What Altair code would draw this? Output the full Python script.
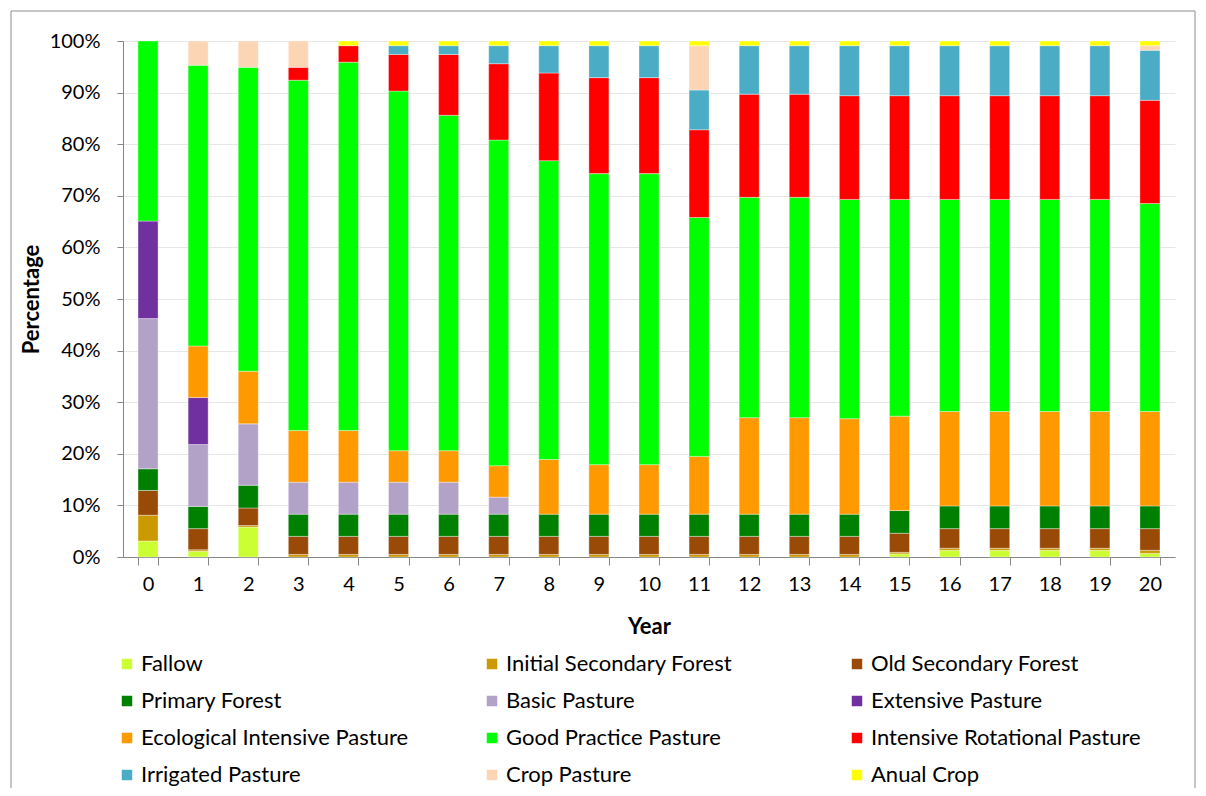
import altair as alt
import pandas as pd

years = list(range(21))

categories = [
    "Fallow", "Initial Secondary Forest", "Old Secondary Forest",
    "Primary Forest", "Basic Pasture", "Extensive Pasture",
    "Ecological Intensive Pasture", "Good Practice Pasture", "Intensive Rotational Pasture",
    "Irrigated Pasture", "Crop Pasture", "Anual Crop",
]
colors = [
    "#CCFF33", "#CC9900", "#994A06",
    "#008000", "#B3A2C7", "#7030A0",
    "#FF9900", "#00FF00", "#FF0000",
    "#4BACC6", "#FCD5B5", "#FFFF00",
]

fallow = [3.1, 1.1, 5.8, 0, 0, 0, 0, 0, 0, 0, 0, 0, 0, 0, 0, 0.6, 1.3, 1.3, 1.3, 1.3, 0.7]
init_sec = [5.0, 0.3, 0.3, 0.5, 0.5, 0.5, 0.5, 0.5, 0.5, 0.5, 0.5, 0.5, 0.5, 0.5, 0.5, 0.3, 0.4, 0.4, 0.4, 0.4, 0.6]
old_sec = [4.8, 4.1, 3.4, 3.5, 3.5, 3.5, 3.5, 3.5, 3.5, 3.5, 3.5, 3.5, 3.5, 3.5, 3.5, 3.7, 3.8, 3.8, 3.8, 3.8, 4.2]
primary = [4.2, 4.3, 4.4, 4.3, 4.3, 4.3, 4.3, 4.3, 4.3, 4.3, 4.3, 4.3, 4.3, 4.3, 4.3, 4.4, 4.4, 4.4, 4.4, 4.4, 4.4]
basic = [29.1, 12.0, 11.9, 6.2, 6.2, 6.2, 6.2, 3.3, 0, 0, 0, 0, 0, 0, 0, 0, 0, 0, 0, 0, 0]
extensive = [18.9, 9.1, 0, 0, 0, 0, 0, 0, 0, 0, 0, 0, 0, 0, 0, 0, 0, 0, 0, 0, 0]
ecological = [0, 10.0, 10.2, 10.0, 10.0, 6.1, 6.1, 6.1, 10.6, 9.6, 9.6, 11.2, 18.7, 18.7, 18.5, 18.3, 18.3, 18.3, 18.3, 18.3, 18.3]
good_practice = [34.9, 54.4, 58.9, 67.9, 71.4, 69.7, 65.0, 63.1, 57.9, 56.4, 56.4, 46.3, 42.7, 42.7, 42.5, 42.0, 41.1, 41.1, 41.1, 41.1, 40.3]
intensive_rot = [0, 0, 0, 2.5, 3.2, 7.1, 11.8, 14.8, 17.0, 18.6, 18.6, 17.0, 20.0, 20.0, 20.1, 20.1, 20.1, 20.1, 20.1, 20.1, 20.0]
irrigated = [0, 0, 0, 0, 0, 1.7, 1.7, 3.5, 5.3, 6.2, 6.2, 7.7, 9.4, 9.4, 9.7, 9.7, 9.7, 9.7, 9.7, 9.7, 9.7]
crop_pasture = [0, 4.7, 5.1, 5.1, 0, 0, 0, 0, 0, 0, 0, 8.6, 0, 0, 0, 0, 0, 0, 0, 0, 0.9]
anual_crop = [0, 0, 0, 0, 0.9, 0.9, 0.9, 0.9, 0.9, 0.9, 0.9, 0.9, 0.9, 0.9, 0.9, 0.9, 0.9, 0.9, 0.9, 0.9, 0.9]

series = [fallow, init_sec, old_sec, primary, basic, extensive, ecological,
          good_practice, intensive_rot, irrigated, crop_pasture, anual_crop]

rows = []
for ci, (cat, vals) in enumerate(zip(categories, series)):
    for y, v in zip(years, vals):
        rows.append({"Year": y, "Category": cat, "idx": ci, "value": v})
df = pd.DataFrame(rows)

FONT = "Lato"

bars = alt.Chart(df).transform_filter("datum.value > 0").mark_bar(
    stroke="white", strokeWidth=0.6, strokeOpacity=0.6
).encode(
    x=alt.X("Year:O", sort=years,
            scale=alt.Scale(paddingInner=0.6, paddingOuter=0.3),
            axis=alt.Axis(title="Year", labelAngle=0, tickBand="extent", tickSize=8,
                          domainColor="#868686", tickColor="#868686",
                          labelPadding=9, titlePadding=22, titleFontWeight="bold")),
    y=alt.Y("value:Q", stack="normalize",
            scale=alt.Scale(domain=[0, 1]),
            axis=alt.Axis(title="Percentage", format=".0%",
                          values=[i / 10 for i in range(11)],
                          tickSize=6, grid=True, gridColor="#e6e6e6",
                          domainColor="#868686", tickColor="#868686",
                          labelPadding=17, titlePadding=6, titleFontWeight="bold")),
    color=alt.Color("Category:N", sort=categories,
                    scale=alt.Scale(domain=categories, range=colors),
                    legend=alt.Legend(title=None, orient="none", legendX=-7, legendY=612,
                                      direction="horizontal",
                                      columns=3, symbolType="square", symbolSize=110,
                                      symbolStrokeWidth=0, labelFontSize=22, labelFont=FONT,
                                      labelColor="black", rowPadding=15, columnPadding=70,
                                      gridAlign="all", labelLimit=400, labelOffset=3)),
    order=alt.Order("idx:Q", sort="ascending"),
)

frame = alt.Chart(alt.Data(values=[{"a": 1}])).mark_rect(
    fillOpacity=0, stroke="#8c8c8c", strokeWidth=1
).encode(
    x=alt.value(-112), x2=alt.value(1072), y=alt.value(-30), y2=alt.value(760)
)

chart = alt.layer(frame, bars).properties(
    width=1052, height=516,
    padding={"left": 115, "top": 33, "right": 23, "bottom": 231},
    autosize=alt.AutoSizeParams(type="none"),
).configure_axis(
    labelFont=FONT, titleFont=FONT, labelFontSize=20, titleFontSize=22,
    labelColor="black", titleColor="black",
).configure_view(stroke="transparent")

chart.save("out.html", embed_options={"renderer": "svg", "actions": False})
